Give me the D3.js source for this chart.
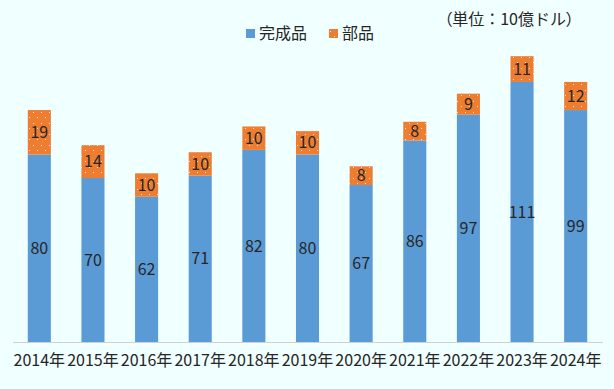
<!DOCTYPE html>
<html>
<head>
<meta charset="utf-8">
<script src="https://cdn.jsdelivr.net/npm/d3@7"></script>
<style>
  body { margin: 0; background: #f0ffff; }
  svg text { font-family: "Noto Sans CJK JP", "Noto Sans", sans-serif; fill: #262626; }
</style>
</head>
<body>
<div class="chart"></div>
<script>
const years = ['2014年', '2015年', '2016年', '2017年', '2018年', '2019年', '2020年', '2021年', '2022年', '2023年', '2024年'];
const finished = [80, 70, 62, 71, 82, 80, 67, 86, 97, 111, 99];
const parts = [19, 14, 10, 10, 10, 10, 8, 8, 9, 11, 12];
const seriesNames = ['完成品', '部品'];
const unitLabel = '（単位：10億ドル）';

const w = 614;
const h = 389;
const margin = { top: 14, right: 11.5, bottom: 47, left: 12.5 };

const blue = '#5b9bd5';
const orange = '#ed7d31';

const svg = d3.select('.chart')
  .append('svg')
  .attr('width', w)
  .attr('height', h);

svg.append('rect')
  .attr('width', w)
  .attr('height', h)
  .attr('fill', '#f0ffff');

// dotted fill for the parts series
const pat = svg.append('defs')
  .append('pattern')
  .attr('id', 'dots')
  .attr('patternUnits', 'userSpaceOnUse')
  .attr('width', 8)
  .attr('height', 11);
pat.append('rect').attr('width', 8).attr('height', 11).attr('fill', orange);
pat.append('rect').attr('x', 1).attr('y', 2).attr('width', 1).attr('height', 1).attr('fill', '#fbe3d3');
pat.append('rect').attr('x', 5).attr('y', 7).attr('width', 1).attr('height', 1).attr('fill', '#fbe3d3');

const xScale = d3.scaleBand()
  .domain(years)
  .range([margin.left, w - margin.right])
  .paddingInner(0.57)
  .paddingOuter(0.285);

const yScale = d3.scaleLinear()
  .domain([0, 140])
  .range([h - margin.bottom, margin.top]);

const data = years.map((y, i) => ({ year: y, a: finished[i], b: parts[i] }));

// finished goods
svg.selectAll('.bar-a')
  .data(data)
  .enter()
  .append('rect')
  .attr('class', 'bar-a')
  .attr('x', d => xScale(d.year))
  .attr('y', d => yScale(d.a))
  .attr('width', xScale.bandwidth())
  .attr('height', d => yScale(0) - yScale(d.a))
  .attr('fill', blue);

// parts
svg.selectAll('.bar-b')
  .data(data)
  .enter()
  .append('rect')
  .attr('class', 'bar-b')
  .attr('x', d => xScale(d.year))
  .attr('y', d => yScale(d.a + d.b))
  .attr('width', xScale.bandwidth())
  .attr('height', d => yScale(d.a) - yScale(d.a + d.b))
  .attr('fill', 'url(#dots)');

// value labels
svg.selectAll('.lab-a')
  .data(data)
  .enter()
  .append('text')
  .attr('x', d => xScale(d.year) + xScale.bandwidth() / 2)
  .attr('y', d => yScale(d.a / 2))
  .attr('dy', '0.35em')
  .attr('text-anchor', 'middle')
  .style('font-size', '16px')
  .text(d => d.a);

svg.selectAll('.lab-b')
  .data(data)
  .enter()
  .append('text')
  .attr('x', d => xScale(d.year) + xScale.bandwidth() / 2)
  .attr('y', d => yScale(d.a + d.b / 2))
  .attr('dy', '0.35em')
  .attr('text-anchor', 'middle')
  .style('font-size', '16px')
  .text(d => d.b);

// x axis
const xAxis = d3.axisBottom(xScale).tickSize(0).tickPadding(13);
const gx = svg.append('g')
  .attr('transform', `translate(0, ${yScale(0)})`)
  .call(xAxis);
gx.select('.domain').attr('stroke', '#d0d0d0').attr('stroke-width', 1);
gx.selectAll('text')
  .style('font-size', '16px')
  .style('font-family', '"Noto Sans CJK JP", sans-serif')
  .attr('fill', '#262626');

// legend
const legend = svg.append('g').attr('transform', 'translate(246, 29)');
seriesNames.forEach((name, i) => {
  const g = legend.append('g').attr('transform', `translate(${i * 83}, 0)`);
  g.append('rect')
    .attr('width', 9)
    .attr('height', 9)
    .attr('fill', i === 0 ? blue : 'url(#dots)');
  g.append('text')
    .attr('x', 13)
    .attr('y', 4.5)
    .attr('dy', '0.35em')
    .style('font-size', '16px')
    .text(name);
});

// unit note, parentheses set proportional
const unit = svg.append('text')
  .attr('x', 574)
  .attr('y', 19)
  .attr('dy', '0.35em')
  .attr('text-anchor', 'end')
  .style('font-size', '16px');
unit.append('tspan').style('font-feature-settings', '"palt"').text(unitLabel.slice(0, 1));
unit.append('tspan').text(unitLabel.slice(1, -1));
unit.append('tspan').style('font-feature-settings', '"palt"').text(unitLabel.slice(-1));
</script>
</body>
</html>
